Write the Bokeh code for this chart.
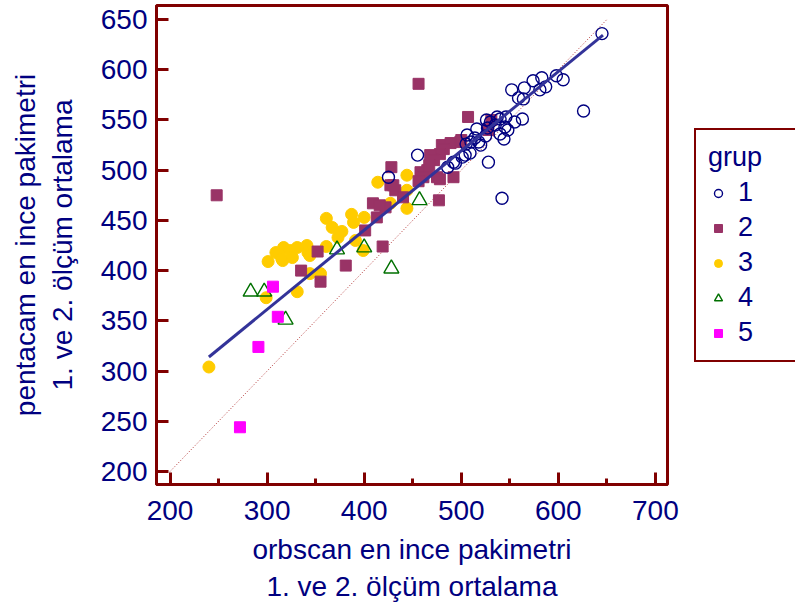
from bokeh.plotting import figure
from bokeh.layouts import row
from bokeh.models import Range1d, FixedTicker, Legend, LegendItem
from bokeh.embed import file_html
from bokeh.resources import INLINE

# ---- data ----
g1_x = [645, 626, 605, 598, 587, 583, 581, 574, 565, 564, 559, 552, 563, 555, 546, 545, 544, 540,
        537, 530, 526, 527, 516, 525, 514, 520, 506, 505, 509, 528, 455, 542, 425, 486, 494, 504,
        510, 518, 535, 548, 501, 492, 540]
g1_y = [636, 559, 590, 594, 583, 592, 580, 589, 582, 571, 572, 580, 551, 548, 553, 543, 531, 536,
        553, 548, 550, 542, 541, 534, 532, 525, 535, 526, 517, 508, 515, 472, 493, 503, 507, 515,
        528, 528, 545, 540, 513, 508, 551]

g2_x = [248, 456, 507, 531, 528, 480, 489, 499, 482, 478, 470, 468, 472, 465, 458, 475, 478, 492,
        428, 427, 432, 430, 440, 461, 477, 409, 422, 416, 413, 401, 419, 352, 381, 335, 355, 467,
        500, 456]
g2_y = [475, 586, 553, 550, 540, 525, 527, 528, 521, 516, 511, 515, 510, 500, 498, 493, 491, 493,
        503, 485, 480, 485, 473, 493, 470, 467, 463, 465, 453, 440, 424, 419, 405, 400, 389, 505,
        530, 489]

g3_x = [240, 299, 331, 301, 316, 309, 317, 324, 331, 315, 326, 341, 342, 344, 361, 344, 355, 361,
        367, 377, 387, 389, 400, 373, 391, 399, 414, 444, 444, 427, 444]
g3_y = [304, 373, 379, 409, 410, 418, 423, 420, 423, 412, 413, 425, 418, 415, 424, 397, 397, 452,
        443, 439, 456, 448, 453, 433, 430, 420, 488, 495, 480, 467, 462]

g4_x = [283, 297, 319, 372, 400, 428, 457]
g4_y = [379, 379, 351, 421, 423, 402, 470]

g5_x = [272, 291, 311, 306]
g5_y = [244, 324, 354, 384]

reg_x = [240, 646]
reg_y = [314, 634.5]
id_x = [200, 650]
id_y = [200, 650]

x_ticks = [200, 300, 400, 500, 600, 700]
x_minor = [250, 350, 450, 550, 650]
y_ticks = [200, 250, 300, 350, 400, 450, 500, 550, 600, 650]

group_labels = ["1", "2", "3", "4", "5"]

NAVY = "#000080"
FRAME = "#800000"
FONT = "Liberation Sans"
C1, C2, C3, C4, C5 = NAVY, "#993366", "#ffcc00", "#007000", "#ff00ff"

p = figure(width=693, height=614, output_backend="svg", toolbar_location=None,
           x_range=Range1d(186, 712.5), y_range=Range1d(187, 664),
           min_border_left=156, min_border_right=26, min_border_top=5, min_border_bottom=130)
p.background_fill_color = "white"
p.border_fill_color = "white"
p.outline_line_color = FRAME
p.outline_line_width = 3
p.xgrid.visible = False
p.ygrid.visible = False

p.xaxis.ticker = FixedTicker(ticks=x_ticks, minor_ticks=x_minor)
p.yaxis.ticker = FixedTicker(ticks=y_ticks, minor_ticks=[])

for ax in (p.xaxis, p.yaxis):
    ax.axis_line_color = FRAME
    ax.axis_line_width = 3
    ax.major_tick_line_color = FRAME
    ax.major_tick_line_width = 3
    ax.minor_tick_line_color = FRAME
    ax.minor_tick_line_width = 3
    ax.major_tick_in = 12
    ax.major_tick_out = 0
    ax.minor_tick_in = 6
    ax.minor_tick_out = 0
    ax.major_label_text_font = FONT
    ax.major_label_text_font_size = "28px"
    ax.major_label_text_color = NAVY
    ax.axis_label_text_font = FONT
    ax.axis_label_text_font_size = "28px"
    ax.axis_label_text_color = NAVY
    ax.axis_label_text_font_style = "normal"

p.xaxis.axis_label = "orbscan en ince pakimetri\n1. ve 2. ölçüm ortalama"
p.yaxis.axis_label = "pentacam en ince pakimetri\n1. ve 2. ölçüm ortalama"
p.xaxis.major_label_standoff = 16
p.xaxis.axis_label_standoff = 11
p.yaxis.major_label_standoff = 9
p.yaxis.axis_label_standoff = 20

# identity line
p.line(id_x, id_y, line_color="#b03030", line_width=1, line_dash="1 2")

p.scatter(g3_x, g3_y, marker="circle", size=12, fill_color=C3, line_color=C3)
p.scatter(g2_x, g2_y, marker="square", size=11, fill_color=C2, line_color=C2)
p.scatter(g1_x, g1_y, marker="circle", size=12, fill_color=None, line_color=C1, line_width=1.4)
p.scatter(g4_x, g4_y, marker="triangle", size=15, fill_color=None, line_color=C4, line_width=1.4)
p.scatter(g5_x, g5_y, marker="square", size=11, fill_color=C5, line_color=C5)

# regression line
p.line(reg_x, reg_y, line_color="#333399", line_width=3)

# ---- legend panel (box runs off the right edge, as in the reference) ----
# Its ranges sit away from the data, so the group renderers here only feed the legend.
q = figure(width=102, height=614, output_backend="svg", toolbar_location=None,
           x_axis_location=None, y_axis_location=None,
           x_range=Range1d(0, 1), y_range=Range1d(0, 1),
           min_border_left=0, min_border_right=0, min_border_top=5, min_border_bottom=130)
q.outline_line_color = None
q.xgrid.visible = False
q.ygrid.visible = False
q.background_fill_color = "white"
q.border_fill_color = "white"

l1 = q.scatter(g1_x, g1_y, marker="circle", fill_color=None, line_color=C1, line_width=1.4)
l2 = q.scatter(g2_x, g2_y, marker="square", fill_color=C2, line_color=C2)
l3 = q.scatter(g3_x, g3_y, marker="circle", fill_color=C3, line_color=C3)
l4 = q.scatter(g4_x, g4_y, marker="triangle", fill_color=None, line_color=C4, line_width=1.4)
l5 = q.scatter(g5_x, g5_y, marker="square", fill_color=C5, line_color=C5)

legend = Legend(
    items=[LegendItem(label=lab, renderers=[r]) for lab, r in zip(group_labels, [l1, l2, l3, l4, l5])],
    location=(1, 122), title="grup",
    title_text_font=FONT, title_text_font_size="27px", title_text_color=NAVY,
    title_text_font_style="normal", title_standoff=4,
    label_text_font=FONT, label_text_font_size="27px", label_text_color=NAVY,
    border_line_color=FRAME, border_line_width=2, border_line_alpha=1, background_fill_alpha=1,
    padding=12, spacing=4, glyph_width=20, glyph_height=22, label_height=22,
    label_standoff=10, label_width=120, margin=0,
)
q.add_layout(legend, "center")

open("out.html", "w").write(file_html(row(p, q), INLINE))
